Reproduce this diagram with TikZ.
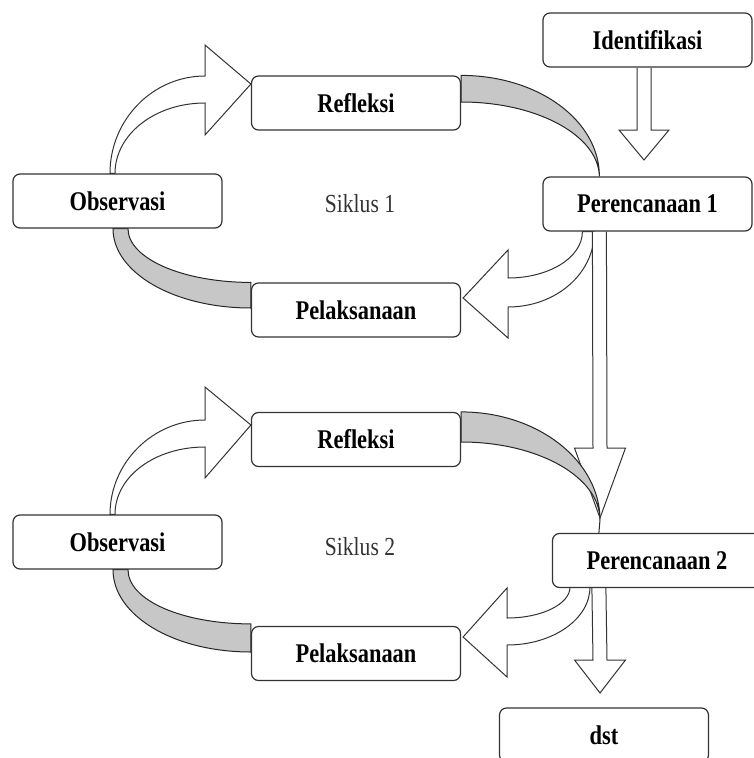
\documentclass[tikz,border=0pt]{standalone}
\usepackage{fontspec}
\setmainfont{Liberation Serif}[FakeStretch=0.83]
\usetikzlibrary{calc,backgrounds}
\begin{document}
\begin{tikzpicture}[
			x=1pt,y=-1pt,
			box/.style={draw=black!80,line width=1.2pt,rounded corners=7pt,fill=white,
					minimum width=209pt,minimum height=54pt,inner sep=0pt,
					font=\fontsize{27}{30}\selectfont\bfseries},
			cycletext/.style={text=black!80,font=\fontsize{26}{30}\selectfont},
			hollow/.style={draw=black!80,line width=1pt,fill=white,line join=miter},
			shade/.style={draw=black!85,line width=1pt,fill=black!22}
		]
		\useasboundingbox (0,0) rectangle (753,758);
		\node[box] (idf) at (647.5,40) {Identifikasi};
		\node[box] (ref1) at (356,103) {Refleksi};
		\node[box] (obs1) at (117.5,201) {Observasi};
		\node[box] (per1) at (647.5,204) {Perencanaan 1};
		\node[box] (pel1) at (356,310) {Pelaksanaan};
		\node[cycletext] (sik1) at (360,204) {Siklus 1};
		\node[box] (ref2) at (356,439.5) {Refleksi};
		\node[box] (obs2) at (117.5,542) {Observasi};
		\node[box] (per2) at (657,560.5) {Perencanaan 2};
		\node[box] (pel2) at (356,653.5) {Pelaksanaan};
		\node[cycletext] (sik2) at (360,547) {Siklus 2};
		\node[box] (dst) at (604,735) {dst};
		\begin{pgfonlayer}{background}
			\draw[hollow] ($(obs1.north)+(-7.5,0)$) .. controls +(0,-54) and +(-52,0) .. (205,76)
				-- (205,45) -- ($(ref1.west)+(0,-19)$) -- (205,135) -- (205,103)
				.. controls +(-50,0) and +(0,-39) .. ($(obs1.north)+(-2.5,0)$) -- cycle;
			\draw[hollow] ($(per1.south west)+(40,0)$) .. controls +(0,26) and +(41,0) .. (508,278)
				-- (508,250) -- ($(pel1.east)+(2,-12)$) -- (508,338) -- (508,307)
				.. controls +(48,0) and +(0,42) .. ($(per1.south west)+(52,0)$) -- cycle;
			\draw[hollow] ($(obs2.north)+(-7.5,0)$) .. controls +(0,-52) and +(-52,0) .. (205,420)
				-- (205,387) -- ($(ref2.west)+(0,-14.5)$) -- (205,478) -- (205,447)
				.. controls +(-50,0) and +(0,-38) .. ($(obs2.north)+(-2.5,0)$) -- cycle;
			\draw[hollow] (570,587) .. controls +(0,17) and +(35,0) .. (507,618)
				-- (507,588) -- ($(pel2.east)+(2,-16.5)$) -- (507,677) -- (507,645)
				.. controls +(46,0) and +(0,32) .. (590,587) -- cycle;
			\draw[hollow] ($(idf.south)+(-10.5,0)$) -- (637,130) -- (619,130) -- (644,160)
				-- (669,130) -- (651,130) -- ($(idf.south)+(3.5,0)$);
			\draw[hollow] ($(per1.south west)+(50,0)$) -- (593,448) -- (574.5,448) -- (600,518)
				-- (625.5,448) -- (607,448) -- ($(per1.south west)+(64,0)$);
			\draw[hollow] ($(per2.south west)+(40,0)$) -- (593,660) -- (574.5,660) -- (600,693)
				-- (625.5,660) -- (607,660) -- ($(per2.south west)+(54,0)$);
			\draw[shade] (ref1.north east) .. controls +(77,0) and +(0,-56) .. ($(per1.north west)+(57,0)$)
				.. controls +(-1,-41) and +(76,0) .. ($(ref1.east)+(0,-1)$) -- cycle;
			\draw[shade] (pel1.north west) .. controls +(-68,0) and +(0,30) .. ($(obs1.south)+(10.5,0)$)
				-- ($(obs1.south)+(-4.5,0)$) .. controls +(0,44) and +(-77,0) .. ($(pel1.west)+(0,-2)$) -- cycle;
			\draw[shade] (ref2.north east) .. controls +(77,0) and +(0,-59) .. (600,520)
				.. controls +(0,-43) and +(77,0) .. ($(ref2.east)+(0,2.5)$) -- cycle;
			\draw[black!85,line width=1pt] (600,520) -- ($(per2.north west)+(47,0)$);
			\draw[shade] ($(pel2.north west)+(0,-2)$) .. controls +(-68,0) and +(0,31) .. ($(obs2.south)+(10.5,0)$)
				-- ($(obs2.south)+(-4.5,0)$) .. controls +(0,46) and +(-77,0) .. ($(pel2.west)+(0,-1.5)$) -- cycle;
		\end{pgfonlayer}
	\end{tikzpicture}
\end{document}
